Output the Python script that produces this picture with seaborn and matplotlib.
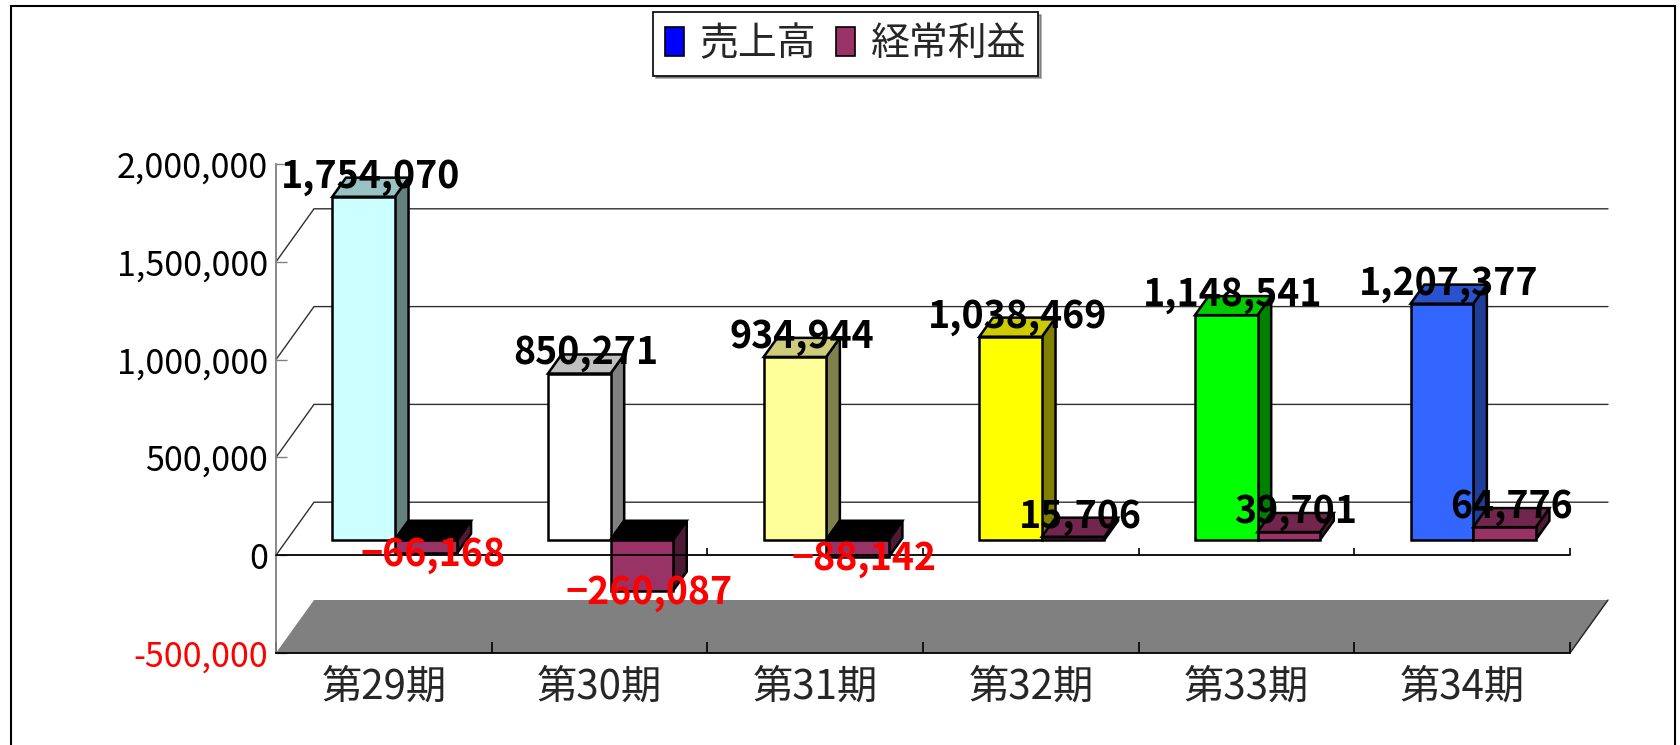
import matplotlib
matplotlib.use('Agg')
import numpy as np
import pandas as pd
import seaborn as sns
import matplotlib.pyplot as plt
from matplotlib.patches import Polygon, Rectangle, Patch

# ---------------- data ----------------
categories = ['第29期', '第30期', '第31期', '第32期', '第33期', '第34期']
sales = [1754070, 850271, 934944, 1038469, 1148541, 1207377]
profit = [-66168, -260087, -88142, 15706, 39701, 64776]
series_names = ['売上高', '経常利益']
y_ticks = [-500000, 0, 500000, 1000000, 1500000, 2000000]

# ---------------- styles ----------------
sales_front = ['#CCFFFF', '#FFFFFF', '#FFFF99', '#FFFF00', '#00FF00', '#3366FF']
sales_top = ['#99C2C2', '#C0C0C0', '#CCCC7A', '#CCCC00', '#00CC00', '#2952CC']
sales_side = ['#668080', '#808080', '#80804D', '#808000', '#008000', '#1F3D99']
profit_front = '#993366'
profit_top_pos = '#73264D'
profit_top_neg = '#000000'
profit_side = '#4D1A33'
legend_colors = ['#0000FF', '#993366']

sns.set_style('white')
plt.rcParams['font.family'] = ['Noto Sans CJK JP', 'DejaVu Sans']
plt.rcParams['axes.unicode_minus'] = False

W, H = 1681, 745
fig = plt.figure(figsize=(W / 100, H / 100), dpi=100)
ax = fig.add_axes([276 / W, 1 - 653 / H, (1570 - 276) / W, (653 - 164) / H])

df = pd.DataFrame({
    '期': categories * 2,
    '値': sales + profit,
    '系列': [series_names[0]] * len(categories) + [series_names[1]] * len(categories),
})
sns.barplot(data=df, x='期', y='値', hue='系列', order=categories, hue_order=series_names,
            dodge=True, width=0.58, errorbar=None, legend=False, ax=ax,
            palette=legend_colors, edgecolor='black', linewidth=1.8)

ax.set_xlim(-0.5, len(categories) - 0.5)
ax.set_ylim(y_ticks[0], y_ticks[-1])
ax.set_xlabel('')
ax.set_ylabel('')

# depth vector (oblique projection) in data units, derived from the axes scales
p0 = ax.transData.transform((0, 0))
inv = ax.transData.inverted()
q = inv.transform(p0 + np.array([38.0, 53.0]))
DX, DY = q[0], q[1]
tick_len = inv.transform(p0 + np.array([0.0, 7.0]))[1]
F1, F2 = 0.29, 0.65
FM = (F1 + F2) / 2

xl0, xl1 = ax.get_xlim()
ymin = y_ticks[0]

# floor
floor = Polygon([(xl0, ymin), (xl1, ymin), (xl1 + DX, ymin + DY), (xl0 + DX, ymin + DY)],
                closed=True, fc='#808080', ec='none', zorder=0.5, clip_on=False)
ax.add_patch(floor)
ax.plot([xl1, xl1 + DX], [ymin, ymin + DY], color='#202020', lw=1, zorder=0.55, clip_on=False)

# back wall gridlines with diagonals
for lvl in y_ticks[1:-1]:
    ax.plot([xl0, xl0 + DX, xl1 + DX], [lvl, lvl + DY, lvl + DY], color='#303030', lw=1,
            zorder=0.6, clip_on=False, solid_joinstyle='miter')


def make_3d(bar, front, top, side, z):
    x0 = bar.get_x(); w = bar.get_width(); y0 = bar.get_y(); h = bar.get_height()
    x1 = x0 + w
    lo, hi = min(y0, y0 + h), max(y0, y0 + h)
    bar.set_x(x0 + F1 * DX)
    bar.set_y(y0 + F1 * DY)
    bar.set_facecolor(front)
    bar.set_edgecolor('black')
    bar.set_linewidth(1.8)
    bar.set_zorder(z + 0.02)
    bar.set_clip_on(False)
    side_poly = Polygon([(x1 + F1 * DX, lo + F1 * DY), (x1 + F1 * DX, hi + F1 * DY),
                         (x1 + F2 * DX, hi + F2 * DY), (x1 + F2 * DX, lo + F2 * DY)],
                        closed=True, fc=side, ec='black', lw=1.8, zorder=z, clip_on=False,
                        joinstyle='miter')
    top_poly = Polygon([(x0 + F1 * DX, hi + F1 * DY), (x1 + F1 * DX, hi + F1 * DY),
                        (x1 + F2 * DX, hi + F2 * DY), (x0 + F2 * DX, hi + F2 * DY)],
                       closed=True, fc=top, ec='black', lw=1.8, zorder=z + 0.01, clip_on=False,
                       joinstyle='miter')
    ax.add_patch(side_poly)
    ax.add_patch(top_poly)
    return x0 + w / 2, y0 + h


sales_bars = ax.containers[0]
profit_bars = ax.containers[1]

for i, bar in enumerate(sales_bars):
    xc, yv = make_3d(bar, sales_front[i], sales_top[i], sales_side[i], 2 + i * 0.1)
    ax.annotate(f"{sales[i]:,}", xy=(xc + FM * DX, yv + FM * DY), xytext=(0, 11),
                textcoords='offset pixels', ha='center', va='center', fontsize=27,
                fontweight='bold', color='black', zorder=6, annotation_clip=False)

for i, bar in enumerate(profit_bars):
    v = profit[i]
    top = profit_top_neg if v < 0 else profit_top_pos
    xc, yv = make_3d(bar, profit_front, top, profit_side, 2.05 + i * 0.1)
    sign = -1 if v < 0 else 1
    ax.annotate(f"{v:,}".replace('-', '−'), xy=(xc + FM * DX, yv + FM * DY), xytext=(0, 11 * sign),
                textcoords='offset pixels', ha='center', va='center', fontsize=27,
                fontweight='bold', color='red' if v < 0 else 'black', zorder=6,
                annotation_clip=False)

# front zero line with category boundary ticks
ax.plot([xl0, xl1], [0, 0], color='black', lw=1.3, zorder=4, clip_on=False)
ax.vlines(np.arange(xl0 + 1, xl1 + 0.01, 1.0), 0, tick_len, color='black', lw=1.2, zorder=4,
          clip_on=False)

# spines and ticks
ax.spines['top'].set_visible(False)
ax.spines['right'].set_visible(False)
ax.spines['left'].set_color('#808080')
ax.spines['left'].set_linewidth(1.3)
ax.spines['bottom'].set_color('black')
ax.spines['bottom'].set_linewidth(1.3)
ax.spines['bottom'].set_zorder(4)

ax.set_yticks(y_ticks)
ax.set_yticklabels([f"{v:,}" for v in y_ticks])
for lab, v in zip(ax.get_yticklabels(), y_ticks):
    lab.set_color('red' if v < 0 else 'black')
ax.tick_params(axis='y', direction='in', length=8, width=1, color='#808080', labelsize=24.5,
               pad=6, left=True)

ax.set_xticks(range(len(categories)))
ax.set_xticklabels(categories)
ax.set_xticks(np.arange(xl0, xl1 + 0.01, 1.0), minor=True)
ax.tick_params(axis='x', which='major', length=0, labelsize=29, pad=10)
ax.tick_params(axis='x', which='minor', direction='in', length=8, width=1.2, color='black',
               bottom=True)
ax.grid(False)

# legend
handles = [Patch(fc=c, ec='black', lw=1.2) for c in legend_colors]
leg = fig.legend(handles, series_names, loc='center', bbox_to_anchor=(845.5 / W, 1 - 44 / H),
                 ncol=2, fontsize=28, frameon=True, fancybox=False, shadow=True,
                 edgecolor='black', framealpha=1, handlelength=0.5, handleheight=0.75,
                 handletextpad=0.4, columnspacing=0.5, borderpad=0.3, borderaxespad=0)
leg.get_frame().set_linewidth(1.2)

# outer frame
fig.add_artist(Rectangle((11 / W, -0.01), (1675 - 11) / W, 1.01 - 6 / H, transform=fig.transFigure,
                         fill=False, ec='black', lw=1.5))

fig.savefig('out.png', dpi=100)
